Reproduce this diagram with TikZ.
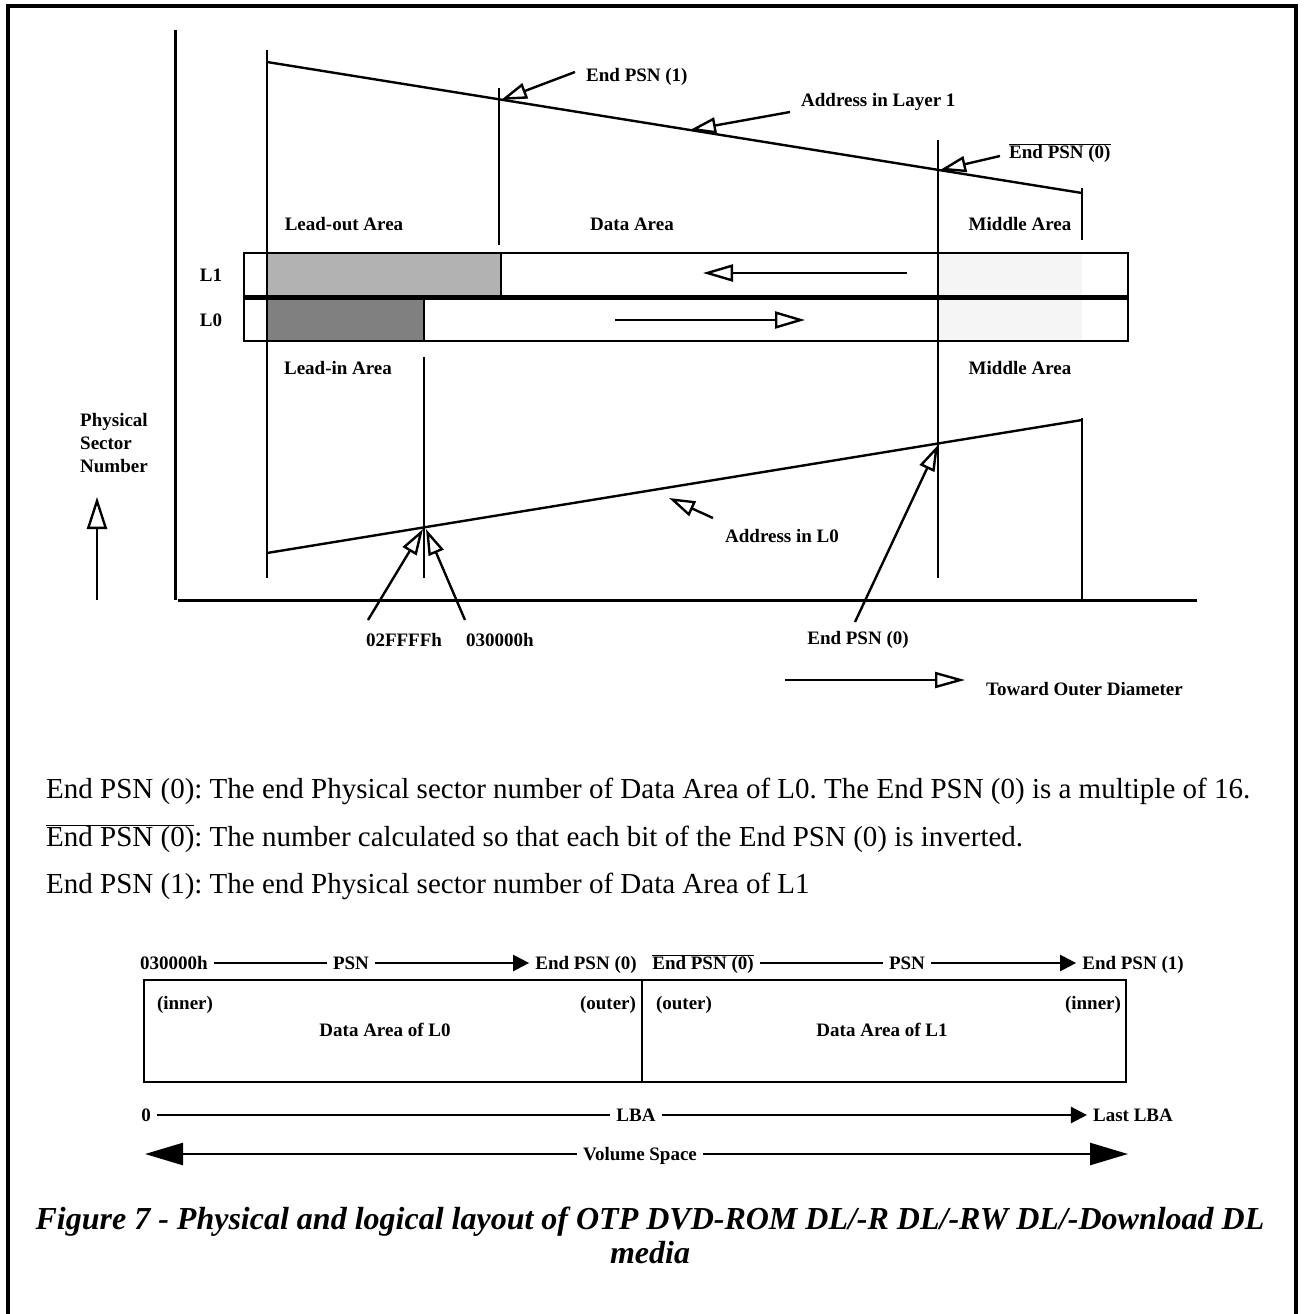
\documentclass[tikz,border=0pt]{standalone}
\usepackage{fontspec}
\setmainfont{Liberation Serif}
\usetikzlibrary{arrows.meta}
\newcommand{\olbar}[1]{$\overline{\mbox{#1}}$}
\frenchspacing

\begin{document}
\begin{tikzpicture}[
  x=1pt, y=-1pt,
  lbl/.style={font=\bfseries\fontsize{19}{21}\selectfont, inner sep=1pt,
    text height=13pt, text depth=0pt},
  rowlbl/.style={lbl, inner sep=6pt},
  body/.style={font=\fontsize{29}{33}\selectfont, anchor=west, inner sep=0pt},
  ln/.style={line width=2.4pt},
  opn/.style={ln, -{Triangle[open, length=26pt, width=16pt, line width=2.4pt]}},
  fil/.style={ln, -{Triangle[length=16pt, width=16pt]}},
]
\useasboundingbox (0,0) rectangle (1304,1314);

% frame
\draw[line width=4pt] (8,1330) -- (8,6) -- (1296,6) -- (1296,1330);

% axes
\draw[line width=3pt] (175,30) -- (175,600);
\draw[line width=3pt] (178,600) -- (1197,600);

% bar fills
\fill[gray!60] (267,253) rectangle (501,297);
\fill[gray] (267,297) rectangle (424,341);
\fill[gray!8] (938,253) rectangle (1082,341);
\draw[ln] (501,253) -- (501,297);
\draw[ln] (424,297) -- (424,341);
\draw[ln] (244,253) rectangle (1128,341);
\draw[line width=5pt] (244,297) -- (1128,297);

% vertical boundaries
\draw[ln] (267,50) -- (267,578);
\draw[ln] (499,88) -- (499,245);
\draw[ln] (424,357) -- (424,578);
\draw[ln] (938,140) -- (938,578);
\draw[ln] (1082,188) -- (1082,240);
\draw[ln] (1082,418) -- (1082,600);

% address lines
\coordinate (topA) at (267,62);
\coordinate (topB) at (1082,193);
\coordinate (botA) at (267,553);
\coordinate (botB) at (1082,420);
\draw[ln] (topA) -- (topB);
\draw[ln] (botA) -- (botB);

% area labels
\node[lbl] (leadout) at (344,224) {Lead-out Area};
\node[lbl] (data)    at (632,224) {Data Area};
\node[lbl] (midtop)  at (1020,224) {Middle Area};
\node[lbl] (leadin)  at (338,368) {Lead-in Area};
\node[lbl] (midbot)  at (1020,368) {Middle Area};
\node[lbl] (layA) at (211,275) {L1};
\node[lbl] (layB) at (211,320) {L0};

% direction arrows in the bars
\coordinate (dirAs) at (907,273);
\coordinate (dirAe) at (703,273);
\coordinate (dirBs) at (615,320);
\coordinate (dirBe) at (805,320);
\draw[opn, -{Triangle[open, length=30pt, width=17pt, line width=2.4pt]}] (dirAs) -- (dirAe);
\draw[opn, -{Triangle[open, length=30pt, width=17pt, line width=2.4pt]}] (dirBs) -- (dirBe);

% callouts
\node[lbl, anchor=west] (endA)  at (585,75) {End PSN (1)};
\node[lbl, anchor=west] (addrA) at (800,100) {Address in Layer 1};
\node[lbl, anchor=west] (endB)  at (1008,152) {\olbar{End PSN (0)}};
\node[lbl, anchor=west] (addrB) at (724,536) {Address in L0};
\node[lbl] (hexA) at (404,640) {02FFFFh};
\node[lbl] (hexB) at (500,640) {030000h};
\node[lbl] (endC) at (858,638) {End PSN (0)};
\coordinate (cA) at (575,72);   \coordinate (pA) at (501,100);
\coordinate (cB) at (790,112);  \coordinate (pB) at (690,130);
\coordinate (cC) at (1000,156); \coordinate (pC) at (940,170);
\coordinate (cD) at (713,518);  \coordinate (pD) at (669,498);
\coordinate (cE) at (368,620);  \coordinate (pE) at (423,529);
\coordinate (cF) at (465,620);  \coordinate (pF) at (426,529);
\coordinate (cG) at (855,622);  \coordinate (pG) at (938,445);
\draw[opn] (cA) -- (pA);
\draw[opn] (cB) -- (pB);
\draw[opn] (cC) -- (pC);
\draw[opn] (cD) -- (pD);
\draw[opn] (cE) -- (pE);
\draw[opn] (cF) -- (pF);
\draw[opn] (cG) -- (pG);

% axis captions
\node[align=left, anchor=north west, inner sep=0pt, font=\bfseries\fontsize{19}{23}\selectfont] (psnlbl) at (80,413) {Physical\\Sector\\Number};
\coordinate (upA) at (97,600);
\coordinate (upB) at (97,497);
\draw[opn, -{Triangle[open, length=32pt, width=20pt, line width=2.4pt]}] (upA) -- (upB);
\node[lbl, anchor=west] (outer) at (985,689) {Toward Outer Diameter};
\coordinate (odA) at (785,680);
\coordinate (odB) at (965,680);
\draw[opn, -{Triangle[open, length=30pt, width=16pt, line width=2.4pt]}] (odA) -- (odB);

% notes
\node[body] (noteA) at (46,791) {End PSN (0): The end Physical sector number of Data Area of L0. The End PSN (0) is a multiple of 16.};
\node[body] (noteB) at (46,839) {\olbar{End PSN (0)}: The number calculated so that each bit of the End PSN (0) is inverted.};
\node[body] (noteC) at (46,886) {End PSN (1): The end Physical sector number of Data Area of L1};

% logical layout
\node[rowlbl] (startL0) at (174,963) {030000h};
\node[rowlbl] (psnL0)   at (351,963) {PSN};
\node[rowlbl] (endL0)   at (586,963) {End PSN (0)};
\node[rowlbl] (startL1) at (703,963) {\olbar{End PSN (0)}};
\node[rowlbl] (psnL1)   at (907,963) {PSN};
\node[rowlbl] (endL1)   at (1133,963) {End PSN (1)};
\draw[ln] (startL0) -- (psnL0);
\draw[fil] (psnL0) -- (endL0);
\draw[ln] (startL1) -- (psnL1);
\draw[fil] (psnL1) -- (endL1);

\draw[ln] (144,980) rectangle (1126,1082);
\draw[ln] (642,980) -- (642,1082);
\node[lbl] (inA)  at (185,1003) {(inner)};
\node[lbl] (outA) at (608,1003) {(outer)};
\node[lbl] (outB) at (684,1003) {(outer)};
\node[lbl] (inB)  at (1093,1003) {(inner)};
\node[lbl] (daL0) at (385,1030) {Data Area of L0};
\node[lbl] (daL1) at (882,1030) {Data Area of L1};

\node[rowlbl] (lbaA) at (146,1115) {0};
\node[rowlbl] (lba)  at (636,1115) {LBA};
\node[rowlbl] (lbaB) at (1133,1115) {Last LBA};
\draw[ln] (lbaA) -- (lba);
\draw[fil] (lba) -- (lbaB);

\node[rowlbl] (vol) at (640,1154) {Volume Space};
\coordinate (volA) at (145,1154);
\coordinate (volB) at (1128,1154);
\draw[ln, -{Triangle[length=38pt, width=22pt]}] (vol) -- (volA);
\draw[ln, -{Triangle[length=38pt, width=22pt]}] (vol) -- (volB);

% caption
\node[font=\bfseries\itshape\fontsize{32}{34}\selectfont, align=center] (cap) at (650,1235)
  {Figure 7 - Physical and logical layout of OTP DVD-ROM DL/-R DL/-RW DL/-Download DL\\media};

\end{tikzpicture}
\end{document}
